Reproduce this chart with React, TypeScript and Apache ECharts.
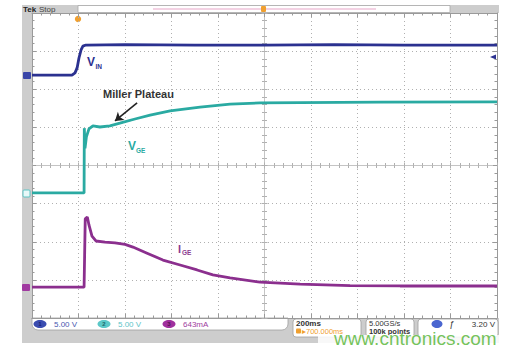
import React, { useEffect, useRef } from 'react';
import * as echarts from 'echarts';

// Time axis: ms (200 ms/div, trigger at centre); vertical axis: screen divisions
const vinTime = [-1000, -828, -815, -806, -798, -789, -781, -768, -600, -300, 0, 300, 600, 1000];
const vinDiv = [2.37, 2.37, 2.43, 2.56, 2.82, 3.03, 3.13, 3.16, 3.17, 3.16, 3.16, 3.17, 3.16, 3.16];

const vgeTime = [-1000, -776, -775, -772, -766, -755, -738, -708, -665, -622, -557, -492, -406, -277, -148, -19, 153, 500, 1000];
const vgeDiv = [-0.72, -0.72, 0.98, 0.45, 0.75, 0.96, 1.04, 1.01, 1.04, 1.11, 1.22, 1.32, 1.43, 1.53, 1.61, 1.64, 1.65, 1.66, 1.67];

const igeTime = [-1000, -776, -771, -762, -755, -742, -725, -686, -643, -600, -566, -505, -437, -363, -290, -222, -148, -19, 153, 368, 583, 1000];
const igeDiv = [-3.19, -3.19, -1.4, -1.35, -1.56, -1.85, -1.98, -2.01, -2.03, -2.07, -2.14, -2.3, -2.48, -2.61, -2.74, -2.87, -2.95, -3.06, -3.11, -3.15, -3.16, -3.16];

const arrowFrom = [-548, 1.64];
const arrowTo = [-643, 1.17];

const channelScales = ['5.00 V', '5.00 V', '643mA'];
const horizontalText = ['200ms', '\u25B8700.000ms'];
const acquisitionText = ['5.00GS/s', '100k points'];
const triggerText = '3.20 V';

const FONT = '"Liberation Sans", Arial, sans-serif';
const gridLine = '#b0b0b0';
const borderCol = '#9a9a9a';

const pairs = (xs: number[], ys: number[]) => xs.map((x, i) => [x, ys[i]]);

function txt(x: number, y: number, text: string, fill: string, size: number, weight = 'normal', align = 'left', extra: any = {}) {
  return {
    type: 'text', x, y, silent: true,
    style: {
      text, fill, fontSize: size, fontWeight: weight, fontFamily: FONT,
      textAlign: align, textVerticalAlign: 'middle', align, verticalAlign: 'middle', ...extra,
    },
  };
}

function rect(x: number, y: number, w: number, h: number, style: any, r: any = 0) {
  return { type: 'rect', silent: true, shape: { x, y, width: w, height: h, r }, style };
}

function borderAxis(position: string, split: boolean, isX: boolean) {
  return {
    type: 'value',
    min: isX ? -1000 : -4,
    max: isX ? 1000 : 4,
    interval: isX ? 200 : 1,
    position,
    axisLine: { show: true, onZero: false, lineStyle: { color: borderCol, width: 1 } },
    axisTick: { show: true, inside: true, length: 4, lineStyle: { color: borderCol } },
    minorTick: { show: true, splitNumber: 5, length: 2.5, lineStyle: { color: borderCol } },
    axisLabel: { show: false },
    splitLine: { show: split, lineStyle: { color: gridLine, type: [1, 3], width: 1 } },
  };
}

function centerAxis(isX: boolean, inside: boolean) {
  return {
    type: 'value',
    min: isX ? -1000 : -4,
    max: isX ? 1000 : 4,
    interval: isX ? 200 : 1,
    axisLine: { show: true, onZero: true, onZeroAxisIndex: 0, lineStyle: { color: '#c4c4c4', width: 1 } },
    axisTick: { show: true, inside, length: 3, lineStyle: { color: '#b0b0b0' } },
    minorTick: { show: true, splitNumber: 5, length: 2.5, lineStyle: { color: '#b0b0b0' } },
    axisLabel: { show: false },
    splitLine: { show: false },
  };
}

export default function App() {
  const ref = useRef<HTMLDivElement>(null);
  useEffect(() => {
    const chart = echarts.init(ref.current!, undefined, { renderer: 'svg' });
    const graphic: any[] = [
      // outer scope frame
      rect(22, 5, 10, 338, { fill: '#cdcdcd' }),
      rect(22, 5, 477, 8, { fill: '#cdcdcd' }),
      rect(22, 318, 477, 25, { fill: '#cdcdcd' }),
      rect(78, 5.5, 372, 7, { fill: '#ffffff', stroke: '#a8a8a8', lineWidth: 0.8 }),
      { type: 'line', silent: true, shape: { x1: 153, y1: 9, x2: 376, y2: 9 }, style: { stroke: '#e8a6c8', lineWidth: 1.2 } },
      rect(261, 6, 5, 6, { fill: '#f0a030' }, 1),
      txt(23, 9, 'Tek', '#222', 8, 'bold'),
      txt(39, 9, 'Stop', '#444', 8),
      // trigger position marker in grid
      { type: 'circle', silent: true, shape: { cx: 78, cy: 19, r: 3.2 }, style: { fill: '#f0a030' } },
      // channel ground markers
      rect(23, 72, 8, 7, { fill: '#3a46a8' }, 1),
      rect(23, 190, 7, 7, { fill: '#e8f8f8', stroke: '#5cc4c4', lineWidth: 1 }, 1),
      rect(22, 284, 8, 7, { fill: '#a03aa0' }, 1),
      // trigger level arrow on right
      { type: 'polygon', silent: true, shape: { points: [[490, 57], [496, 54.5], [496, 59.5]] }, style: { fill: '#2b3190' } },
      // status bar
      rect(32, 318, 256, 12, { fill: '#ffffff', stroke: '#a0a0a0', lineWidth: 0.8 }, [0, 0, 6, 6]),
      { type: 'ellipse', silent: true, shape: { cx: 40, cy: 324, rx: 6.5, ry: 4 }, style: { fill: '#3a4cb0' } },
      txt(40, 324, '1', '#1a2070', 6, 'bold', 'center'),
      txt(54, 324, channelScales[0], '#4858b0', 8),
      { type: 'ellipse', silent: true, shape: { cx: 104, cy: 324, rx: 6.5, ry: 4 }, style: { fill: '#5cc8c8' } },
      txt(104, 324, '2', '#1a6a6a', 6, 'bold', 'center'),
      txt(118, 324, channelScales[1], '#5cc4c8', 8),
      { type: 'ellipse', silent: true, shape: { cx: 169, cy: 324, rx: 6.5, ry: 4 }, style: { fill: '#a0309e' } },
      txt(169, 324, '3', '#501050', 6, 'bold', 'center'),
      txt(183, 324, channelScales[2], '#a040a0', 8),
      rect(293, 319, 68, 18, { fill: '#ffffff', stroke: '#a0a0a0', lineWidth: 0.8 }, 3),
      txt(296, 323.5, horizontalText[0], '#333', 8, 'bold'),
      rect(296, 328.5, 5, 5, { fill: '#f0a030' }, 1),
      txt(302, 331, horizontalText[1], '#f0a030', 7.5),
      rect(366, 319, 48, 18, { fill: '#ffffff', stroke: '#a0a0a0', lineWidth: 0.8 }, 3),
      txt(369, 323.5, acquisitionText[0], '#333', 7.5),
      txt(369, 331, acquisitionText[1], '#333', 7.5, 'bold'),
      rect(418, 319, 80, 18, { fill: '#ffffff', stroke: '#a0a0a0', lineWidth: 0.8 }, 3),
      { type: 'ellipse', silent: true, shape: { cx: 437, cy: 324, rx: 5.5, ry: 4 }, style: { fill: '#4a66d0' } },
      txt(452, 324, '\u0192', '#333', 9, 'normal', 'center'),
      txt(495, 324, triggerText, '#333', 8, 'normal', 'right'),
      // watermark
      rect(318, 335, 181, 13, { fill: 'rgba(255,255,255,0.85)' }),
      txt(334, 338.5, 'www.cntronics.com', 'rgba(92,184,62,0.85)', 19),
      // trace labels
      txt(87, 62, 'V', '#2b3190', 12, 'bold'),
      txt(95.5, 66, 'IN', '#2b3190', 6.5, 'bold'),
      txt(103, 94, 'Miller Plateau', '#333333', 11, 'bold'),
      txt(128, 146, 'V', '#2aaaa2', 12, 'bold'),
      txt(136, 150, 'GE', '#2aaaa2', 6.5, 'bold'),
      txt(178, 249, 'I', '#8b3a8f', 11, 'bold'),
      txt(182, 252.5, 'GE', '#8b3a8f', 6.5, 'bold'),
    ];

    chart.setOption({
      animation: false,
      backgroundColor: 'transparent',
      grid: { left: 32, top: 13, right: 21, bottom: 33, show: true, backgroundColor: '#ffffff', borderWidth: 0 },
      xAxis: [borderAxis('bottom', true, true), borderAxis('top', false, true), centerAxis(true, false), centerAxis(true, true)],
      yAxis: [borderAxis('left', true, false), borderAxis('right', false, false), centerAxis(false, false), centerAxis(false, true)],
      graphic,
      series: [
        {
          name: 'VIN', type: 'line', xAxisIndex: 0, yAxisIndex: 0, showSymbol: false, silent: true,
          data: pairs(vinTime, vinDiv), lineStyle: { color: '#2b3190', width: 2.8 }, z: 5,
        },
        {
          name: 'VGE', type: 'line', xAxisIndex: 0, yAxisIndex: 0, showSymbol: false, silent: true,
          data: pairs(vgeTime, vgeDiv), lineStyle: { color: '#2aaaa2', width: 2.8 }, z: 5,
          markLine: {
            silent: true, symbol: ['none', 'arrow'], symbolSize: 8,
            lineStyle: { color: '#222222', width: 1.6, type: 'solid' }, label: { show: false },
            data: [[{ coord: arrowFrom }, { coord: arrowTo }]],
          },
        },
        {
          name: 'IGE', type: 'line', xAxisIndex: 0, yAxisIndex: 0, showSymbol: false, silent: true,
          data: pairs(igeTime, igeDiv), lineStyle: { color: '#8b2f8e', width: 2.8 }, z: 5,
        },
      ],
    });
    return () => chart.dispose();
  }, []);
  return <div ref={ref} style={{ position: 'absolute', left: 0, top: 0, width: 518, height: 351 }} />;
}
